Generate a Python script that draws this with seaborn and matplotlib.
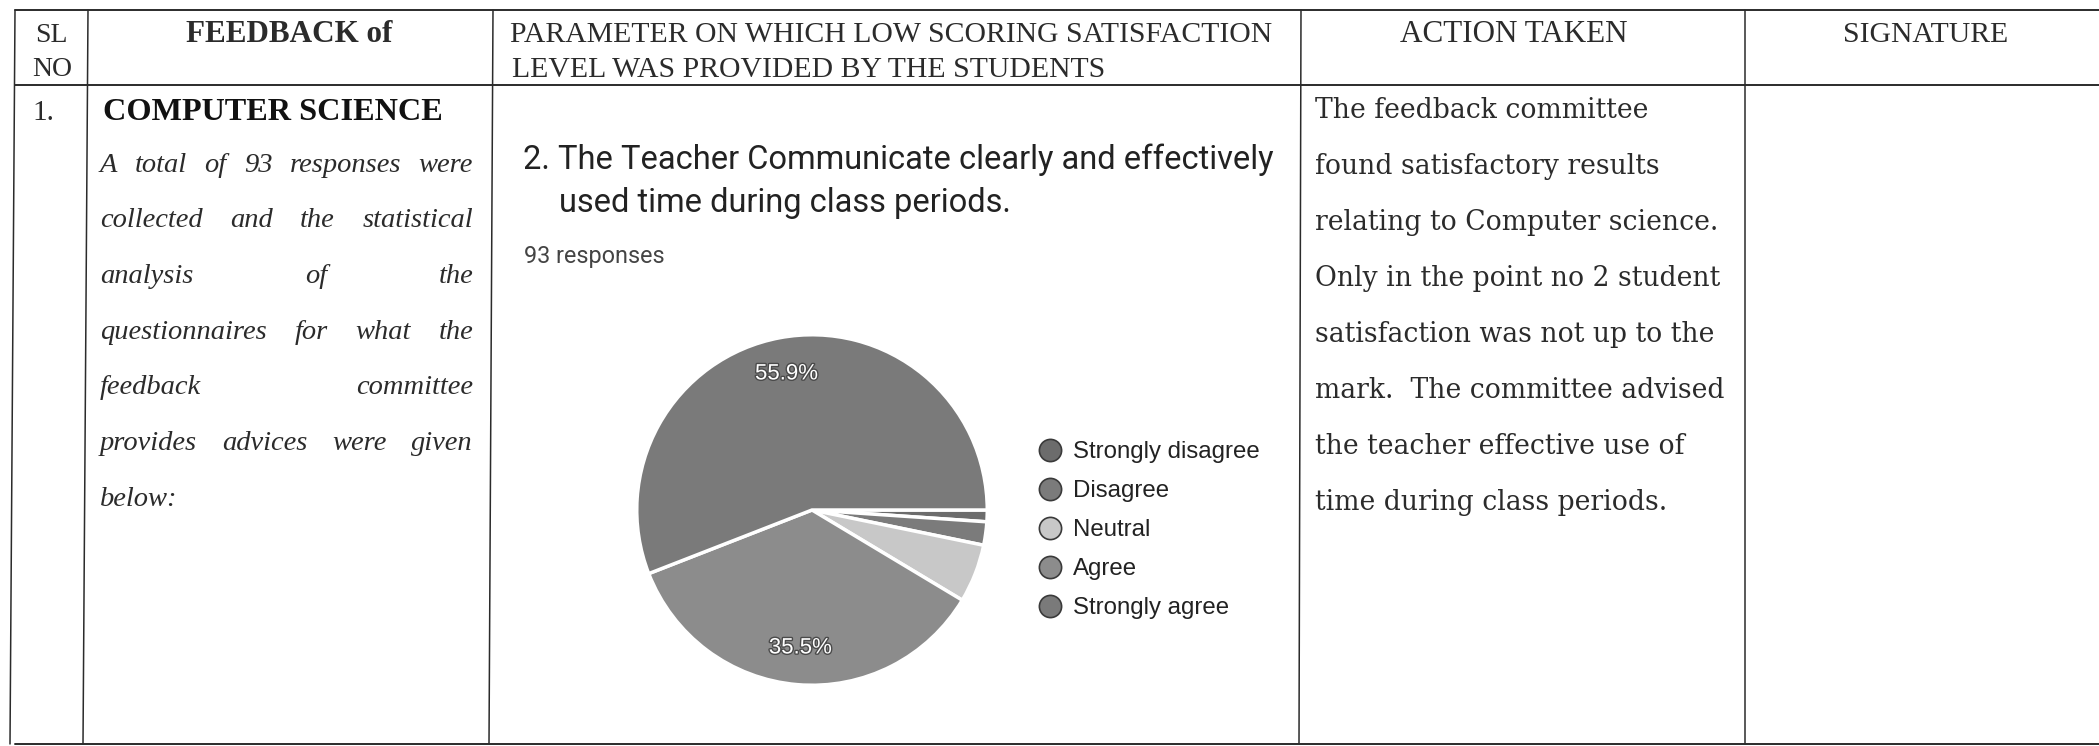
import matplotlib
matplotlib.use("Agg")
import matplotlib.pyplot as plt
from matplotlib.lines import Line2D
import matplotlib.patheffects as pe
import seaborn as sns

# ---- data ----
answers = ["Strongly disagree", "Disagree", "Neutral", "Agree", "Strongly agree"]
counts = [1, 2, 5, 33, 52]          # 93 responses -> 55.9% / 35.5%
shades = ["#6c6c6c", "#7b7b7b", "#c8c8c8", "#8c8c8c", "#7a7a7a"]

question = ["2. The Teacher Communicate clearly and effectively",
            "used time during class periods."]
n_responses = "93 responses"

header_sl = ["SL", "NO"]
header_feedback = "FEEDBACK of"
header_param = ["PARAMETER ON WHICH LOW SCORING SATISFACTION",
                "LEVEL WAS PROVIDED BY THE STUDENTS"]
header_action = "ACTION TAKEN"
header_sign = "SIGNATURE"

row_no = "1."
dept = "COMPUTER SCIENCE"
summary_lines = ["A total of 93 responses were",
                 "collected and the statistical",
                 "analysis of the",
                 "questionnaires for what the",
                 "feedback committee",
                 "provides advices were given",
                 "below:"]
action_lines = ["The feedback committee",
                "found satisfactory results",
                "relating to Computer science.",
                "Only in the point no 2 student",
                "satisfaction was not up to the",
                "mark.  The committee advised",
                "the teacher effective use of",
                "time during class periods."]

sns.set_style("white")
plt.rcParams["font.family"] = ["Liberation Serif", "DejaVu Serif"]

W, H = 2099, 746
fig = plt.figure(figsize=(W / 100, H / 100), dpi=100)
tax = fig.add_axes([0, 0, 1, 1])
tax.set_xlim(0, W)
tax.set_ylim(H, 0)
tax.axis("off")
renderer = fig.canvas.get_renderer()


def width_of(t):
    return t.get_window_extent(renderer).width


def fit(t, target):
    t.set_fontsize(t.get_fontsize() * target / width_of(t))
    return t


def justify(words_line, x0, x1, y, last=False, **kw):
    words = words_line.split()
    if last or len(words) == 1:
        tax.text(x0, y, words_line, va="center", **kw)
        return
    texts = [tax.text(0, y, w, va="center", **kw) for w in words]
    widths = [width_of(t) for t in texts]
    gap = (x1 - x0 - sum(widths)) / (len(words) - 1)
    x = x0
    for t, w in zip(texts, widths):
        t.set_x(x)
        x += w + gap


# ---- table grid (scan is slightly skewed on the left) ----
cols_top = [15, 88, 493, 1301, 1745]
cols_bot = [10, 83, 489, 1299, 1745]
top, mid, bottom = 10, 85, 744
ink = "#2b2b2b"
for y in (top, mid, bottom):
    tax.plot([cols_top[0], W], [y, y], color=ink, lw=1.4)
for xt, xb in zip(cols_top, cols_bot):
    tax.plot([xt, xb], [top, bottom], color=ink, lw=1.1)

# ---- header row ----
hsize = 20
tax.text(51, 35, header_sl[0], ha="center", va="center", fontsize=hsize, color=ink)
tax.text(52, 70, header_sl[1], ha="center", va="center", fontsize=hsize, color=ink)
p1 = fit(tax.text(510, 35, header_param[0], va="center", fontsize=hsize, color=ink), 760)
psize = p1.get_fontsize()
tax.text(289, 35, header_feedback, ha="center", va="center", fontsize=psize * 1.05,
         fontweight="bold", color=ink)
tax.text(512, 70, header_param[1], va="center", fontsize=psize, color=ink)
fit(tax.text(1514, 35, header_action, ha="center", va="center", fontsize=psize, color=ink), 228)
tax.text(1926, 35, header_sign, ha="center", va="center", fontsize=psize, color=ink)

# ---- body row ----
tax.text(32, 113, row_no, va="center", fontsize=21, color=ink)
fit(tax.text(103, 113, dept, va="center", fontsize=21, fontweight="bold", color="#111"), 339)

for i, line in enumerate(summary_lines):
    justify(line, 100, 473, 165 + 55.7 * i, last=(i == len(summary_lines) - 1),
            fontsize=20.5, style="italic", color=ink)

ref = fit(tax.text(1315, 0, action_lines[5], fontsize=17, family="DejaVu Serif"), 410)
asize = ref.get_fontsize()
ref.remove()
for i, line in enumerate(action_lines):
    tax.text(1315, 111 + 56 * i, line, va="center", fontsize=asize,
             family="DejaVu Serif", color=ink)

# ---- google-forms style pie ----
q1 = fit(tax.text(523, 160, question[0], va="center", fontsize=20, family="Roboto",
                  color="#222"), 750)
tax.text(559, 203, question[1], va="center", fontsize=q1.get_fontsize(),
         family="Roboto", color="#222")
fit(tax.text(524, 257, n_responses, va="center", fontsize=12, family="Roboto",
             color="#444"), 140)

cx, cy, r = 812, 510, 177
pax = fig.add_axes([(cx - r) / W, (H - cy - r) / H, 2 * r / W, 2 * r / H])
wedges, _, autotexts = pax.pie(
    counts, colors=shades, startangle=0, counterclock=False,
    autopct=lambda p: f"{p:.1f}%" if p > 10 else "", pctdistance=0.79,
    wedgeprops=dict(edgecolor="white", linewidth=2.5),
    textprops=dict(color="white", fontsize=16, family="Liberation Sans"))
for t in autotexts:
    t.set_path_effects([pe.withStroke(linewidth=2.0, foreground="#4a4a4a")])
pax.set_xlim(-1.01, 1.01)
pax.set_ylim(-1.01, 1.01)

# legend: circles at x~1050, rows 39 px apart starting at y~452
handles = [Line2D([], [], ls="", marker="o", markersize=16, markerfacecolor=c,
                  markeredgecolor="#3a3a3a", markeredgewidth=1.2) for c in shades]
lsize = 17.3
fs_px = lsize * 100 / 72
spacing = 0.5
anchor = [1038, 438]
for _ in range(3):
    leg = fig.legend(handles, answers, loc="upper left", frameon=False,
                     bbox_to_anchor=(anchor[0] / W, 1 - anchor[1] / H),
                     borderpad=0, borderaxespad=0, handlelength=1.0,
                     handletextpad=0.45, labelspacing=spacing,
                     prop=dict(family="Liberation Sans", size=lsize), labelcolor="#222")
    fig.canvas.draw()
    boxes = [t.get_window_extent(renderer) for t in leg.get_texts()]
    ys = [H - (b.y0 + b.y1) / 2 for b in boxes]
    step = (ys[-1] - ys[0]) / (len(ys) - 1)
    spacing += (39 - step) / fs_px
    anchor[1] += 452 - ys[0]
    anchor[0] += 1073 - boxes[0].x0
    leg.remove()
fig.legend(handles, answers, loc="upper left", frameon=False,
           bbox_to_anchor=(anchor[0] / W, 1 - anchor[1] / H),
           borderpad=0, borderaxespad=0, handlelength=1.0,
           handletextpad=0.45, labelspacing=spacing,
           prop=dict(family="Liberation Sans", size=lsize), labelcolor="#222")

fig.savefig("out.png", dpi=100)
